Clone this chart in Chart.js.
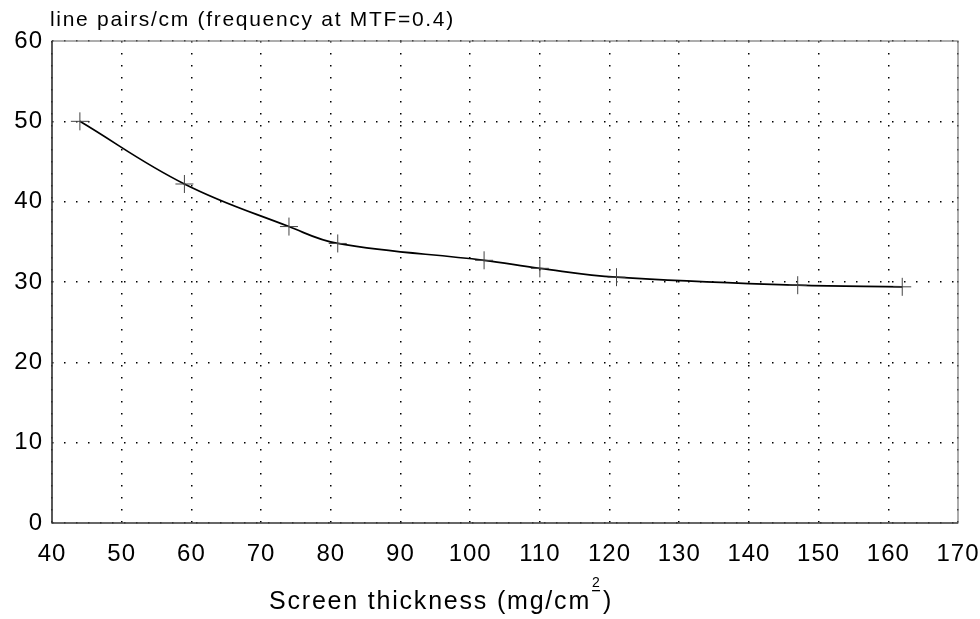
<!DOCTYPE html>
<html>
<head>
<meta charset="utf-8">
<script src="https://cdn.jsdelivr.net/npm/chart.js@4.4.1/dist/chart.umd.min.js"></script>
<style>
  html, body { margin: 0; padding: 0; background: #fff; }
  #wrap { width: 980px; height: 619px; position: relative; }
</style>
</head>
<body>
<div id="wrap"><canvas id="mtfChart"></canvas></div>
<script>
// values
const thickness = [44, 59, 74, 81, 102, 110, 121, 147, 162];
const linePairs = [50, 42.2, 36.9, 34.8, 32.7, 31.7, 30.6, 29.6, 29.4];

const xMin = 40, xMax = 170, xStep = 10;
const yMin = 0, yMax = 60, yStep = 10;

const yCaption = 'line pairs/cm (frequency at MTF=0.4)';
const xCaption = 'Screen thickness (mg/cm';

const FONT = "'Liberation Sans', Arial, Helvetica, sans-serif";

const spacing = {
    id: 'spacing',
    beforeDraw(chart) {
        chart.ctx.letterSpacing = '1px';
    }
};

const frame = {
    id: 'frame',
    afterDraw(chart) {
        const { ctx, chartArea: a } = chart;
        ctx.save();
        ctx.letterSpacing = '0px';
        ctx.strokeStyle = '#777';
        ctx.lineWidth = 1.2;
        ctx.strokeRect(a.left, a.top, a.right - a.left, a.bottom - a.top);
        ctx.strokeStyle = '#222';
        ctx.beginPath();
        ctx.moveTo(a.left, a.top);
        ctx.lineTo(a.left, a.bottom);
        ctx.lineTo(a.right, a.bottom);
        ctx.stroke();

        // captions
        ctx.fillStyle = '#000';
        ctx.textBaseline = 'middle';
        ctx.textAlign = 'left';
        ctx.font = `21px ${FONT}`;
        ctx.letterSpacing = '1.7px';
        ctx.fillText(yCaption, 50, 20);

        ctx.font = `25px ${FONT}`;
        ctx.letterSpacing = '1.8px';
        const x0 = 269, y0 = 602;
        ctx.fillText(xCaption, x0, y0);
        const w = ctx.measureText(xCaption).width;
        ctx.font = `14px ${FONT}`;
        ctx.letterSpacing = '0px';
        ctx.fillText('2', x0 + w + 1, y0 - 19);
        ctx.fillRect(x0 + w + 1, y0 - 12, 8, 1.3);
        ctx.font = `25px ${FONT}`;
        ctx.fillText(')', x0 + w + 12, y0);
        ctx.restore();
    }
};

const config = {
    type: 'line',
    data: {
        datasets: [{
            label: 'MTF 0.4',
            data: thickness.map((t, i) => ({ x: t, y: linePairs[i] })),
            borderColor: '#000',
            borderWidth: 1.7,
            tension: 0.4,
            pointStyle: 'cross',
            pointRadius: 9,
            pointBorderWidth: 1,
            pointBorderColor: '#444',
            pointBackgroundColor: '#444',
            fill: false
        }]
    },
    options: {
        responsive: false,
        animation: false,
        layout: { padding: { top: 41, right: 22, left: 0, bottom: 0 } },
        plugins: {
            legend: { display: false },
            tooltip: { enabled: false }
        },
        scales: {
            x: {
                type: 'linear',
                min: xMin,
                max: xMax,
                ticks: {
                    stepSize: xStep,
                    color: '#000',
                    padding: 17,
                    maxRotation: 0,
                    font: { family: FONT, size: 24 }
                },
                grid: { color: '#000', lineWidth: 1.5, drawTicks: false },
                border: { display: false, dash: [1.5, 10.5] },
                afterFit(scale) {
                    scale.height = 96;
                    scale.paddingLeft = 0;
                    scale.paddingRight = 0;
                }
            },
            y: {
                min: yMin,
                max: yMax,
                ticks: {
                    stepSize: yStep,
                    color: '#000',
                    padding: 9,
                    font: { family: FONT, size: 24 }
                },
                grid: { color: '#000', lineWidth: 1.5, drawTicks: false },
                border: { display: false, dash: [1.5, 10.5] },
                afterFit(scale) {
                    scale.width = 52;
                    scale.paddingTop = 0;
                    scale.paddingBottom = 0;
                }
            }
        }
    },
    plugins: [spacing, frame]
};

const canvas = document.getElementById('mtfChart');
canvas.width = 980;
canvas.height = 619;
new Chart(canvas, config);
</script>
</body>
</html>
